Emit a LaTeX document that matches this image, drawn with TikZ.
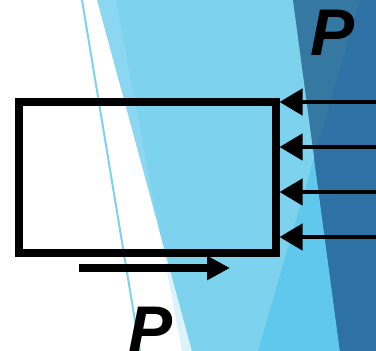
\documentclass[tikz,border=0pt]{standalone}
\usepackage{fontspec}
\setmainfont{Liberation Sans}
\usetikzlibrary{arrows.meta}
\definecolor{bandblue}{HTML}{8BD7F1}
\definecolor{lightblue}{HTML}{7DD3EE}
\definecolor{paleblue}{HTML}{DDF3FB}
\definecolor{midblue}{HTML}{60C8EC}
\definecolor{greyblue}{HTML}{3579A2}
\definecolor{darkblue}{HTML}{2E72A5}

\begin{document}
\begin{tikzpicture}[x=1pt,y=-1pt]
  \useasboundingbox (0,0) rectangle (376,351);

  % Background facets
  \fill[bandblue] (97,0) -- (192,351) -- (376,351) -- (376,0) -- cycle;
  \fill[paleblue] (159.3,230) -- (182,351) -- (192,351) -- cycle;
  \fill[lightblue] (116,0) -- (159.3,230) -- (192,351) -- (376,351) -- (376,0) -- cycle;
  \fill[midblue] (360,0) -- (258,351) -- (376,351) -- (376,0) -- cycle;
  \fill[greyblue] (293,0) -- (340,351) -- (376,351) -- (376,0) -- cycle;
  \fill[darkblue] (360,0) -- (314.1,157.8) -- (340,351) -- (376,351) -- (376,0) -- cycle;
  \draw[lightblue, line width=2pt] (82,0) -- (140,351);

  % Block
  \node[draw, line width=8pt, inner sep=0pt, minimum width=257pt,
        minimum height=151pt] (box) at (147,177.5) {};

  % Pressure on the right side
  \coordinate (f1) at (376,102);
  \coordinate (f2) at (376,147);
  \coordinate (f3) at (376,192);
  \coordinate (f4) at (376,237);
  \draw[line width=4.5pt, -{Triangle[length=23pt,width=26pt]}] (f1) -- (box.east |- f1);
  \draw[line width=4.5pt, -{Triangle[length=23pt,width=26pt]}] (f2) -- (box.east |- f2);
  \draw[line width=4.5pt, -{Triangle[length=23pt,width=26pt]}] (f3) -- (box.east |- f3);
  \draw[line width=4.5pt, -{Triangle[length=23pt,width=26pt]}] (f4) -- (box.east |- f4);

  % Push underneath
  \coordinate (s) at (79,268);
  \coordinate (e) at (230,268);
  \draw[line width=8pt, -{Triangle[length=23pt,width=23pt]}] (s) -- (e);

  % Labels
  \node[anchor=base, inner sep=0pt, font=\fontsize{66pt}{66pt}\selectfont\bfseries\itshape]
    (ptop) at (333,55) {P};
  \node[anchor=base, inner sep=0pt, font=\fontsize{66pt}{66pt}\selectfont\bfseries\itshape]
    (pbot) at (151,352) {P};
\end{tikzpicture}
\end{document}
